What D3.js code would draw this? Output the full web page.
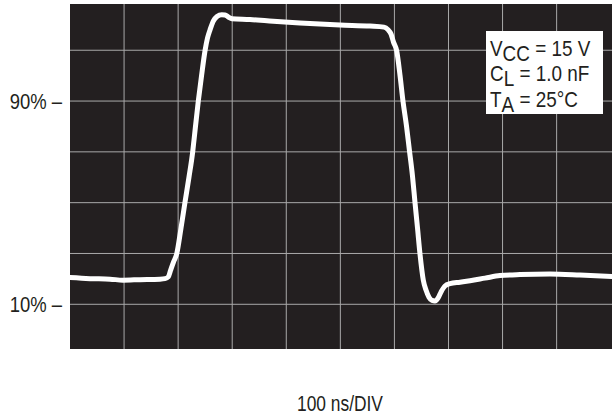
<!DOCTYPE html>
<html>
<head>
<meta charset="utf-8">
<script src="https://cdn.jsdelivr.net/npm/d3@7"></script>
<style>
  html, body { margin: 0; padding: 0; background: #ffffff; }
  svg { display: block; }
  text { font-family: "Liberation Sans Narrow", "Arial Narrow", "Liberation Sans", Arial, sans-serif; fill: #231f20; }
</style>
</head>
<body>
<svg id="chart" width="612" height="418"></svg>
<script>
// ---- data (time in ns, level in % of scope scale) ----
const timeNs = [0, 37, 74, 98, 129.5, 166.4, 175.7, 181.8, 186.2, 191.4, 197.3, 205.3, 212.7, 220.1, 226.9, 229.3,
  237.3, 243.2, 249.7, 254.3, 258.9, 265.0, 271.9, 280.6, 286.7, 292.8, 299.6, 332.9, 364.3, 425.4, 499.3, 554.8,
  580.7, 588.1, 593.7, 598.3, 604.2, 610.3, 615.8, 622.3, 627.9, 633.4, 638.0, 642.7, 647.3, 653.4, 658.4, 663.9,
  669.5, 675.0, 680.6, 686.1, 693.5, 702.8, 721.3, 739.8, 767.5, 795.2, 832.2, 887.7, 943.2, 1002.4];
const levelPct = [20.5, 20.1, 19.9, 19.5, 19.7, 19.9, 20.1, 20.8, 23.5, 26.6, 29.8, 40.0, 50.2, 60.1, 70.0, 74.6,
  90.0, 99.8, 109.8, 114.8, 118.0, 121.5, 123.3, 124.0, 123.9, 123.1, 122.4, 122.1, 121.6, 120.7, 119.9, 119.5,
  119.1, 118.1, 116.4, 113.2, 109.8, 100.2, 90.0, 80.2, 70.3, 60.5, 50.2, 40.0, 29.8, 19.5, 15.6, 12.8,
  11.5, 11.3, 12.4, 14.8, 17.2, 18.1, 18.7, 19.3, 20.3, 21.3, 21.7, 21.9, 21.5, 20.9];

const xGridNs = [100, 200, 300, 400, 500, 600, 700, 800, 900];
const yGridPct = [10, 30, 50, 70, 90, 110];
const yTickLabels = [{ v: 90, label: "90% \u2013" }, { v: 10, label: "10% \u2013" }];
const xAxisTitle = "100 ns/DIV";
const legendLines = [
  { main: "V", sub: "CC", rest: " = 15 V" },
  { main: "C", sub: "L", rest: " = 1.0 nF" },
  { main: "T", sub: "A", rest: " = 25\u00B0C" }
];

// ---- layout ----
const plot = { left: 70, top: 4, right: 612, bottom: 349 };

const x = d3.scaleLinear().domain([0, 1002.4]).range([plot.left, plot.right]);
const y = d3.scaleLinear().domain([-7.6, 128.2]).range([plot.bottom, plot.top]);

const svg = d3.select("#chart");

svg.append("rect")
  .attr("x", plot.left).attr("y", plot.top)
  .attr("width", plot.right - plot.left).attr("height", plot.bottom - plot.top)
  .attr("fill", "#231f20");

const grid = svg.append("g").attr("stroke", "#a9a9a9").attr("stroke-width", 1);
grid.selectAll("line.v").data(xGridNs).join("line").attr("class", "v")
  .attr("x1", d => x(d)).attr("x2", d => x(d))
  .attr("y1", plot.top).attr("y2", plot.bottom);
grid.selectAll("line.h").data(yGridPct).join("line").attr("class", "h")
  .attr("x1", plot.left).attr("x2", plot.right)
  .attr("y1", d => y(d)).attr("y2", d => y(d));

// trace
const pts = timeNs.map((t, i) => [t, levelPct[i]]);
const line = d3.line().x(d => x(d[0])).y(d => y(d[1])).curve(d3.curveMonotoneX);
svg.append("path").attr("d", line(pts))
  .attr("fill", "none").attr("stroke", "#ffffff")
  .attr("stroke-width", 5).attr("stroke-linejoin", "round").attr("stroke-linecap", "round");

// y labels (condensed)
svg.selectAll("g.ylab").data(yTickLabels).join("g").attr("class", "ylab")
  .attr("transform", d => `translate(62,${y(d.v) + 8}) scale(0.84,1)`)
  .append("text").attr("x", 0).attr("y", 0)
  .attr("text-anchor", "end").attr("font-size", 22)
  .text(d => d.label);

// x title (condensed)
svg.append("g").attr("transform", "translate(340,411) scale(0.79,1)")
  .append("text").attr("x", 0).attr("y", 0)
  .attr("text-anchor", "middle").attr("font-size", 22)
  .text(xAxisTitle);

// legend box
svg.append("rect").attr("x", 486).attr("y", 31).attr("width", 117).attr("height", 83)
  .attr("fill", "#ffffff");
legendLines.forEach((l, i) => {
  const t = svg.append("g")
    .attr("transform", `translate(490,${56 + i * 25.3}) scale(0.86,1)`)
    .append("text").attr("x", 0).attr("y", 0).attr("font-size", 22);
  t.append("tspan").text(l.main);
  t.append("tspan").attr("dy", 5).text(l.sub);
  t.append("tspan").attr("dy", -5).text(l.rest);
});
</script>
</body>
</html>
